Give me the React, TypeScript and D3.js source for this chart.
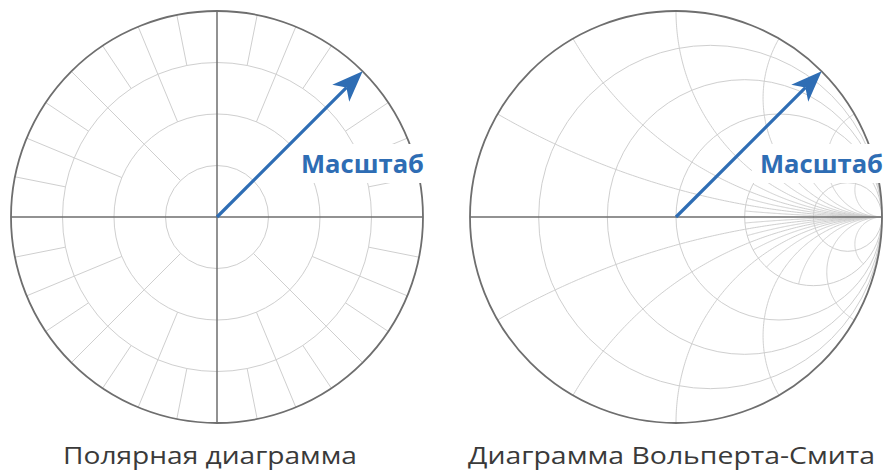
import React from "react";
import * as d3 from "d3";

const W = 886;
const H = 472;
const RADIUS = 206;
const polarCenter: [number, number] = [217, 217];
const smithCenter: [number, number] = [676, 217];

// Polar grid: ring fractions, spoke angular steps and the ring each spoke level starts from
const polarRings = [0.25, 0.5, 0.75, 1.0];
const spokeStepsDeg = [45, 22.5, 11.25];
const spokeStartRings = [0.25, 0.5, 0.75];

// Smith (Wolpert-Smith) grid
const resistanceValues = [0.2, 0.5, 1, 2, 5];
const reactanceAnglesMajor = [30, 60, 90, 120, 150];
const reactanceAnglesMinor = [15, 45, 75, 105, 135, 165];
const minorStartResistance = 2;

// Arrow ("scale") and labels
const arrowAngleDeg = 45;
const arrowLength = 1.0;
const scaleLabel = "Масштаб";
const captions = ["Полярная диаграмма", "Диаграмма Вольперта-Смита"];

const GRID = "#cfcfcf";
const AXIS = "#6e6e6e";
const BLUE = "#2e6db4";

function gammaOf(r: number, x: number): [number, number] {
  const den = (r + 1) * (r + 1) + x * x;
  return [(r * r - 1 + x * x) / den, (2 * x) / den];
}

function reactanceArc(angleDeg: number, r0: number, sign: number): [number, number][] {
  const ax = 1 / Math.tan(((angleDeg / 2) * Math.PI) / 180);
  const cy = 1 / ax;
  const rad = 1 / ax;
  const g0 = gammaOf(r0, ax);
  const phi0 = Math.atan2(g0[1] - cy, g0[0] - 1);
  let phi1 = -Math.PI / 2;
  while (phi1 < phi0) phi1 += 2 * Math.PI;
  const n = 160;
  return d3.range(n + 1).map((i) => {
    const p = phi0 + ((phi1 - phi0) * i) / n;
    return [1 + rad * Math.cos(p), sign * (cy + rad * Math.sin(p))] as [number, number];
  });
}

function makeScales(center: [number, number]) {
  const sx = d3.scaleLinear().domain([-1, 1]).range([center[0] - RADIUS, center[0] + RADIUS]);
  const sy = d3.scaleLinear().domain([-1, 1]).range([center[1] + RADIUS, center[1] - RADIUS]);
  return { sx, sy };
}

function Arrow({ center }: { center: [number, number] }) {
  const { sx, sy } = makeScales(center);
  const a = (arrowAngleDeg * Math.PI) / 180;
  const tip: [number, number] = [sx(arrowLength * Math.cos(a)), sy(arrowLength * Math.sin(a))];
  const len = Math.hypot(tip[0] - sx(0), tip[1] - sy(0));
  const ux = (tip[0] - sx(0)) / len;
  const uy = (tip[1] - sy(0)) / len;
  const L = 31;
  const Wd = 12;
  const notch = 23;
  const base = [tip[0] - ux * L, tip[1] - uy * L];
  const px = -uy;
  const py = ux;
  const c1 = [base[0] + px * Wd, base[1] + py * Wd];
  const c2 = [base[0] - px * Wd, base[1] - py * Wd];
  const nt = [tip[0] - ux * notch, tip[1] - uy * notch];
  return (
    <g>
      <line x1={sx(0)} y1={sy(0)} x2={nt[0]} y2={nt[1]} stroke={BLUE} strokeWidth={3.2} />
      <path d={`M${tip[0]},${tip[1]}L${c1[0]},${c1[1]}L${nt[0]},${nt[1]}L${c2[0]},${c2[1]}Z`} fill={BLUE} />
    </g>
  );
}

function LabelBox({ x, right }: { x: number; right: number }) {
  return <rect x={x} y={144} width={right - x} height={39} fill="#fff" />;
}

function ScaleText({ x }: { x: number }) {
  return (
    <text
      x={x}
      y={173}
      fontFamily="'Open Sans', 'Noto Sans', sans-serif"
      fontWeight={700}
      fontSize={25}
      fill={BLUE}
      textLength={123}
      lengthAdjust="spacingAndGlyphs"
    >
      {scaleLabel}
    </text>
  );
}

function PolarChart() {
  const [cx, cy] = polarCenter;
  const spokes: { a: number; r0: number }[] = [];
  spokeStepsDeg.forEach((step, i) => {
    const n = Math.round(360 / step);
    for (let k = 0; k < n; k++) {
      const ang = k * step;
      if (Math.abs(ang % 90) < 1e-6) continue;
      if (i > 0 && Math.abs(ang % spokeStepsDeg[i - 1]) < 1e-6) continue;
      spokes.push({ a: ang, r0: spokeStartRings[i] });
    }
  });
  const rs = d3.scaleLinear().domain([0, 1]).range([0, RADIUS]);
  return (
    <g>
      {polarRings.slice(0, -1).map((r) => (
        <circle key={r} cx={cx} cy={cy} r={rs(r)} fill="none" stroke={GRID} strokeWidth={1} />
      ))}
      {spokes.map((s, i) => {
        const a = (s.a * Math.PI) / 180;
        return (
          <line
            key={i}
            x1={cx + rs(s.r0) * Math.cos(a)}
            y1={cy - rs(s.r0) * Math.sin(a)}
            x2={cx + rs(1) * Math.cos(a)}
            y2={cy - rs(1) * Math.sin(a)}
            stroke={GRID}
            strokeWidth={1}
          />
        );
      })}
      <line x1={cx - RADIUS} y1={cy} x2={cx + RADIUS} y2={cy} stroke={AXIS} strokeWidth={1.5} />
      <line x1={cx} y1={cy - RADIUS} x2={cx} y2={cy + RADIUS} stroke={AXIS} strokeWidth={1.5} />
      <circle cx={cx} cy={cy} r={RADIUS} fill="none" stroke={AXIS} strokeWidth={1.8} />
      <LabelBox x={289} right={432} />
      <Arrow center={polarCenter} />
      <ScaleText x={301} />
    </g>
  );
}

function SmithChart() {
  const { sx, sy } = makeScales(smithCenter);
  const line = d3
    .line<[number, number]>()
    .x((d) => sx(d[0]))
    .y((d) => sy(d[1]));
  const arcs: string[] = [];
  const addSet = (angles: number[], r0: number) => {
    angles.forEach((a) => {
      arcs.push(line(reactanceArc(a, r0, 1)) || "");
      arcs.push(line(reactanceArc(a, r0, -1)) || "");
    });
  };
  addSet(reactanceAnglesMajor, 0);
  addSet(reactanceAnglesMinor, minorStartResistance);
  const pxPerUnit = sx(1) - sx(0);
  return (
    <g>
      {resistanceValues.map((r) => (
        <circle
          key={r}
          cx={sx(r / (1 + r))}
          cy={sy(0)}
          r={pxPerUnit / (1 + r)}
          fill="none"
          stroke={GRID}
          strokeWidth={1}
        />
      ))}
      {arcs.map((d, i) => (
        <path key={i} d={d} fill="none" stroke={GRID} strokeWidth={1} />
      ))}
      <line x1={sx(-1)} y1={sy(0)} x2={sx(1)} y2={sy(0)} stroke={AXIS} strokeWidth={1.5} />
      <circle cx={sx(0)} cy={sy(0)} r={RADIUS} fill="none" stroke={AXIS} strokeWidth={1.8} />
      <LabelBox x={752} right={886} />
      <Arrow center={smithCenter} />
      <ScaleText x={760} />
    </g>
  );
}

export default function App() {
  return (
    <svg
      width={W}
      height={H}
      viewBox={`0 0 ${W} ${H}`}
      style={{ position: "absolute", left: 0, top: 0, background: "#fff" }}
    >
      <rect width={W} height={H} fill="#fff" />
      <PolarChart />
      <SmithChart />
      <text
        x={63}
        y={464}
        fontFamily="'Open Sans', 'Noto Sans', sans-serif"
        fontSize={23}
        fill="#3a3a3a"
        textLength={294}
        lengthAdjust="spacingAndGlyphs"
      >
        {captions[0]}
      </text>
      <text
        x={468}
        y={464}
        fontFamily="'Open Sans', 'Noto Sans', sans-serif"
        fontSize={23}
        fill="#3a3a3a"
        textLength={407}
        lengthAdjust="spacingAndGlyphs"
      >
        {captions[1]}
      </text>
    </svg>
  );
}
